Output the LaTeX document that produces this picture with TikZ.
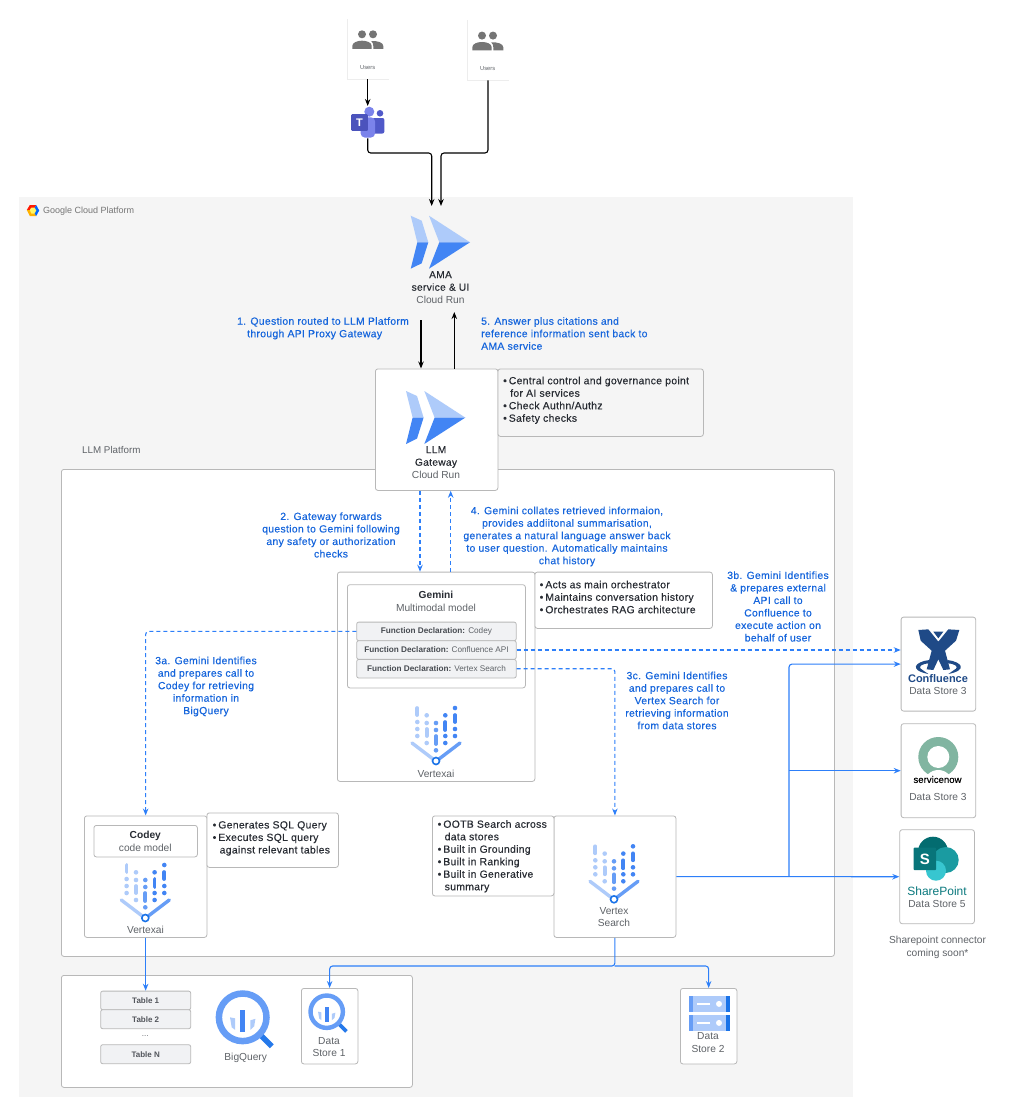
\documentclass[tikz,border=0pt]{standalone}
\usepackage{fontspec}
\setmainfont{Liberation Sans}
\newfontfamily\medfont[FakeBold=0.3,LetterSpace=3]{Liberation Sans}
\newfontfamily\logofont[FakeBold=0.3]{Liberation Sans}
\usetikzlibrary{arrows.meta,calc}
\definecolor{bgc}{HTML}{F5F5F5}
\definecolor{edgec}{HTML}{B8B8B8}
\definecolor{fdfill}{HTML}{F1F2F4}
\definecolor{linkb}{HTML}{2D7FF9}
\definecolor{textb}{HTML}{1565DC}
\definecolor{inkc}{HTML}{282C33}
\definecolor{grayt}{HTML}{5F6368}
\definecolor{lightb}{HTML}{AECBFA}
\definecolor{midb}{HTML}{669DF6}
\definecolor{darkb}{HTML}{4285F4}
\definecolor{deepb}{HTML}{1A73E8}
\definecolor{navyc}{HTML}{1F4A87}
\definecolor{snowg}{HTML}{81B5A1}
\definecolor{spdark}{HTML}{036C70}
\definecolor{spmid}{HTML}{1A9BA1}
\definecolor{splight}{HTML}{37C6D0}
\definecolor{tindigo}{HTML}{4B53BC}
\definecolor{tmid}{HTML}{7B83EB}
\definecolor{tdeep}{HTML}{5059C9}
\definecolor{peoplec}{HTML}{757575}
\tikzset{
  x=1pt,y=-1pt,
  panel/.style={draw=edgec,line width=.8pt,rounded corners=2.5pt,fill=white},
  notebox/.style={draw=edgec,line width=.8pt,rounded corners=2.5pt,fill=bgc},
  fdbox/.style={draw=edgec,line width=.8pt,rounded corners=2pt,fill=fdfill,font=\fontsize{8.2}{9}\selectfont,text=grayt,inner sep=0pt,anchor=north west},
  tablebox/.style={fdbox,font=\fontsize{8}{9}\selectfont\bfseries,text=inkc!80},
  bl/.style={text=textb,font=\fontsize{10.4}{12.5}\medfont,align=center,inner sep=0pt},
  bul/.style={text=inkc,font=\fontsize{10.4}{12.5}\medfont,align=left,inner sep=0pt,anchor=north west},
  lab/.style={text=grayt,font=\fontsize{10.2}{12.5}\selectfont,align=center,inner sep=0pt},
  bk/.style={draw=black,line width=1.1pt,rounded corners=3pt,-{Stealth[length=7pt,width=5.5pt]}},
  bluearrow/.style={draw=linkb,line width=1.1pt,rounded corners=3pt,-{Stealth[length=7pt,width=5.5pt]}},
  dasharrow/.style={bluearrow,dash pattern=on 4pt off 3pt},
}
\newcommand{\boxnode}[6][panel]{\node[#1,minimum width=#4-#2,minimum height=#5-#3,anchor=north west,inner sep=0pt] (#6) at (#2,#3) {};}
\newcommand{\vertexicon}[2]{%
 \begin{scope}[shift={(#1,#2)},line cap=round]
  \foreach \cx/\cc/\ya/\yb/\dl in {-18.7/lightb/-53/-46/{-39,-32,-25},-9.3/lightb/-32/-25/{-45.7,-38,-18},0/midb/-25/-17/{-38,-31,-10.7},9.3/darkb/-39/-31/{-45.7,-25,-18},19/darkb/-46/-39/{-53,-32,-25}}{%
    \draw[\cc,line width=3.7pt] (\cx,\ya)--(\cx,\yb);
    \foreach \dy in \dl {\fill[\cc] (\cx,\dy) circle (2.3pt);}
  }
  \draw[lightb,line width=3.4pt] (-24,-18)--(-3,-2);
  \draw[midb,line width=3.4pt] (24,-18)--(3,-2);
  \draw[deepb,line width=1.6pt,fill=white] (0,0) circle (3.5pt);
 \end{scope}}
\newcommand{\cloudrun}[2]{%
 \begin{scope}[shift={(#1,#2)}]
  \fill[lightb] (0,0)--(11,5)--(17.6,26.6)--(6.6,26.6)--cycle;
  \fill[darkb] (6.6,26.6)--(17.6,26.6)--(11,47.6)--(0,53)--cycle;
  \fill[lightb] (18.3,0)--(59.3,26.6)--(28.6,26.6)--cycle;
  \fill[darkb] (28.6,26.6)--(59.3,26.6)--(18.3,53)--cycle;
 \end{scope}}
\newcommand{\usercard}[2]{%
 \begin{scope}[shift={(#1,#2)}]
  \fill[peoplec] (14.7,15.3) circle (4pt);
  \fill[peoplec] (25.7,15.3) circle (4pt);
  \fill[peoplec] (5,30) -- (5,27) .. controls (5,23.5) and (10,21.7) .. (14.7,21.7) .. controls (19.5,21.7) and (24.4,23.5) .. (24.4,27) -- (24.4,30) -- cycle;
  \fill[peoplec] (26,30) -- (26,27) .. controls (26,25) and (25.5,23.5) .. (24,22.2) .. controls (30,21.5) and (36,23.5) .. (36,27) -- (36,30) -- cycle;
 \end{scope}}
\newcommand{\bqicon}[3]{%
 \begin{scope}[shift={(#1,#2)},scale=#3]
  \draw[deepb!85!midb,line width=#3*5.5pt] (18.5,18.5)--(29,29);
  \draw[midb,line width=#3*6.5pt,fill=white] (0,0) circle (23.8pt);
  \fill[darkb] (-2.7,-7.3) rectangle (2.7,15);
  \fill[lightb] (-12.7,0)--(-7.7,1)--(-7.7,12.5)--(-11,10)--cycle;
  \fill[lightb] (7.7,3)--(12.7,1.5)--(11.5,9)--(7.7,12.5)--cycle;
 \end{scope}}
\begin{document}
\begin{tikzpicture}
\useasboundingbox (0,0) rectangle (1013,1116);
\fill[white] (0,0) rectangle (1013,1116);
% platform background and panels
\fill[bgc] (19,197) rectangle (853,1097);
\boxnode{61}{469}{834}{956}{llm}
\boxnode{61}{975}{412}{1087}{bqpanel}
\node[lab,anchor=west,font=\fontsize{9.8}{12}\selectfont] (llmlabel) at (82,450) {LLM Platform};
% GCP logo
\begin{scope}[shift={(33,210.5)}]
 \fill[yellow!60!white] (0,0) circle (4pt);
 \fill[red!80!orange] (-6.2,-.5)--(-3.2,-5.5)--(3.2,-5.5)--(1.7,-3)--(-1.8,-3)--(-3.4,-.5)--cycle;
 \fill[orange!60!yellow] (-6.2,-.5)--(-3.4,-.5)--(-1.8,3)--(1.7,3)--(3.2,5.5)--(-3.2,5.5)--cycle;
 \fill[blue!60!cyan] (3.2,-5.5)--(6.2,0)--(3.2,5.5)--(1.7,3)--(3.4,0)--(1.7,-3)--cycle;
\end{scope}
\node[anchor=west,text=peoplec,inner sep=0pt,font=\fontsize{9}{10}\selectfont] (gcp) at (43,211) {Google Cloud Platform};
% user cards
\fill[black!7] (346.5,19) rectangle (389.2,80);
\node[fill=white,minimum width=41pt,minimum height=60pt,anchor=north west,inner sep=0pt] (u1) at (347.3,19) {};
\usercard{347.3}{19}
\node[text=grayt,inner sep=0pt,font=\fontsize{5.8}{7}\selectfont] (u1t) at (367.7,67.5) {Users};
\fill[black!7] (466.5,20) rectangle (509.2,80.5);
\node[fill=white,minimum width=41pt,minimum height=60pt,anchor=north west,inner sep=0pt] (u2) at (467.3,20) {};
\usercard{467.3}{20.3}
\node[text=grayt,inner sep=0pt,font=\fontsize{5.8}{7}\selectfont] (u2t) at (487.7,69) {Users};
% teams
\node[minimum width=33pt,minimum height=32pt,anchor=north west,inner sep=0pt] (teams) at (351,106) {};
\fill[tdeep] (380,113.3) circle (3.3pt);
\fill[tdeep,rounded corners=2pt] (372,118) rectangle (384.4,133.5);
\fill[tmid] (369.3,111.7) circle (5pt);
\fill[tmid,rounded corners=4pt] (360.7,117.3) rectangle (375,137.5);
\node[fill=tindigo,rounded corners=1pt,text=white,minimum width=16.7pt,minimum height=16.7pt,inner sep=0pt,anchor=north west,font=\fontsize{11}{11}\selectfont\bfseries] (teamsT) at (351,114) {T};
% AMA
\node[minimum width=60pt,minimum height=64pt,anchor=north west,inner sep=0pt] (ama) at (410.7,206) {};
\cloudrun{410.7}{215.7}
\node[text=inkc,font=\fontsize{10.2}{12.5}\medfont,align=center,inner sep=0pt,anchor=north] (amat) at (440.5,271) {AMA\\service \& UI};
\node[lab,anchor=north] (amac) at (440.5,296) {Cloud Run};
% Gateway
\boxnode{375}{368.5}{497.5}{490}{gw}
\cloudrun{406}{391}
\node[text=inkc,font=\fontsize{10.2}{12.5}\medfont,align=center,inner sep=0pt,anchor=north] (gwt) at (436,446) {LLM\\Gateway};
\node[lab,anchor=north] (gwc) at (436,471) {Cloud Run};
\boxnode[notebox]{497.5}{368.5}{703}{436}{gwn}
\node[bul] (gwnt) at (503,376.5) {\textbullet\hspace{2pt}Central control and governance point\\\hspace*{7pt}for AI services\\\textbullet\hspace{2pt}Check Authn/Authz\\\textbullet\hspace{2pt}Safety checks};
% Gemini
\boxnode{337}{571.7}{534.5}{781}{gem}
\boxnode{347}{584.3}{525}{687.5}{gemin}
\node[text=inkc,font=\fontsize{10.2}{12}\selectfont\bfseries,inner sep=0pt] (gemt) at (436,595) {Gemini};
\node[lab] (gemm) at (436,607.5) {Multimodal model};
\node[fdbox,minimum width=159.5pt,minimum height=18.6pt] (fd1) at (356.3,621.7) {\textcolor{inkc!85}{\bfseries Function Declaration:} Codey};
\node[fdbox,minimum width=159.5pt,minimum height=18.6pt] (fd2) at (356.3,640.3) {\textcolor{inkc!85}{\bfseries Function Declaration:} Confluence API};
\node[fdbox,minimum width=159.5pt,minimum height=18.6pt] (fd3) at (356.3,659) {\textcolor{inkc!85}{\bfseries Function Declaration:} Vertex Search};
\vertexicon{436}{761}
\node[lab] (gemv) at (436,773.5) {Vertexai};
\boxnode{534.5}{571.7}{712}{628}{gemn}
\node[bul] (gemnt) at (539.5,580.5) {\textbullet\hspace{2pt}Acts as main orchestrator\\\textbullet\hspace{2pt}Maintains conversation history\\\textbullet\hspace{2pt}Orchestrates RAG architecture};
% Codey
\boxnode{84}{815.5}{206.5}{937}{cod}
\boxnode{93.5}{825}{197}{856.5}{codin}
\node[text=inkc,font=\fontsize{10.2}{12}\selectfont\bfseries,inner sep=0pt] (codt) at (145.3,835.5) {Codey};
\node[lab] (codm) at (145.3,848) {code model};
\vertexicon{145.3}{918}
\node[lab] (codv) at (145.5,930) {Vertexai};
\boxnode{206.5}{812.5}{338}{867}{codn}
\node[bul] (codnt) at (212.5,821) {\textbullet\hspace{2pt}Generates SQL Query\\\textbullet\hspace{2pt}Executes SQL query\\\hspace*{7pt}against relevant tables};
% Vertex Search
\boxnode{553.5}{815.5}{675.5}{937}{vs}
\vertexicon{614}{899.3}
\node[lab] (vst) at (614,917) {Vertex\\Search};
\boxnode{432}{815.5}{553.5}{895.5}{vsn}
\node[bul] (vsnt) at (437.5,820) {\textbullet\hspace{2pt}OOTB Search across\\\hspace*{7pt}data stores\\\textbullet\hspace{2pt}Built in Grounding\\\textbullet\hspace{2pt}Built in Ranking\\\textbullet\hspace{2pt}Built in Generative\\\hspace*{7pt}summary};
% Data stores right
\boxnode{900.7}{616.7}{975.3}{710.7}{conf}
\begin{scope}[shift={(900,620)},scale=1/3]
 \fill[navyc] (55,30)--(85,28)--(115,65)--(145,28)--(178,30)--(168,62)--(135,92)--(150,148)--(130,150)--(115,118)--(100,150)--(80,148)--(95,92)--(62,62)--cycle;
 \fill[navyc] (100,35)--(130,35)--(115,55)--cycle;
 \fill[navyc] (88,120)..controls (45,125) and (25,150)..(85,162)--(62,146)..controls (55,140) and (65,131)..(88,130)--cycle;
 \fill[navyc] (142,120)..controls (185,125) and (205,150)..(145,162)--(168,146)..controls (175,140) and (165,131)..(142,130)--cycle;
\end{scope}
\node[text=navyc,inner sep=0pt,font=\fontsize{11}{12}\selectfont\bfseries] (conft) at (938,679) {Confluence};
\node[lab] (confd) at (938,690.5) {Data Store 3};
\boxnode{900.7}{723.3}{975.3}{817.3}{snow}
\fill[snowg] (938.3,757) circle (20pt);
\fill[white] (938.3,784.5) circle (14.5pt);
\fill[white] (938.3,757) circle (11pt);
\node[text=black,inner sep=0pt,font=\fontsize{9.6}{10}\logofont] (snowt) at (937.5,779.5) {servicenow};
\node[lab] (snowd) at (938,797) {Data Store 3};
\boxnode{899.3}{829.3}{974}{923.3}{sp}
\fill[spdark] (933,851.7) circle (15pt);
\fill[spmid] (945.7,860) circle (13pt);
\fill[splight] (936,870.7) circle (10pt);
\node[fill=spdark!90!splight,text=white,rounded corners=1pt,minimum width=22.7pt,minimum height=22.7pt,inner sep=0pt,anchor=north west,font=\fontsize{15}{15}\selectfont\bfseries] (spS) at (913.3,847.3) {S};
\node[text=spdark!85!splight,inner sep=0pt,font=\fontsize{12}{13}\selectfont] (spt) at (937,891.5) {SharePoint};
\node[lab] (spd) at (937,903.5) {Data Store 5};
\node[lab] (spnote) at (937.5,947.5) {Sharepoint connector\\coming soon*};
% bottom panel
\node[tablebox,minimum width=90pt,minimum height=18.7pt] (t1) at (100.3,990.7) {Table 1};
\node[tablebox,minimum width=90pt,minimum height=19pt] (t2) at (100.3,1009.3) {Table 2};
\node[lab,font=\fontsize{8}{9}\selectfont] (tdots) at (145.3,1036.5) {...};
\node[tablebox,minimum width=90pt,minimum height=19pt] (tn) at (100.3,1044.3) {Table N};
\bqicon{242.7}{1017.3}{1}
\node[lab] (bqt) at (245.7,1057.7) {BigQuery};
\boxnode{301}{988}{357.5}{1063.5}{ds1}
\bqicon{326.7}{1011.7}{.68}
\node[lab] (ds1t) at (329,1047) {Data\\Store 1};
\boxnode{680}{988}{736.5}{1063.5}{ds2}
\begin{scope}
 \foreach \yy in {996,1015}{
  \fill[lightb] (689,\yy) rectangle (730.3,\yy+15.7);
  \fill[midb] (689,\yy) rectangle (693.3,\yy+15.7);
  \fill[deepb] (726,\yy) rectangle (730.3,\yy+15.7);
  \fill[white] (696.7,\yy+7) rectangle (710,\yy+8.8);
  \fill[white] (719,\yy+7.9) circle (3pt);
 }
\end{scope}
\node[lab] (ds2t) at (708,1042.5) {Data\\Store 2};
% blue labels
\node[bl,align=left,anchor=north west] (l1) at (237,317) {1. Question routed to LLM Platform\\\hspace*{10pt}through API Proxy Gateway};
\node[bl,align=left,anchor=north west] (l5) at (481,317) {5. Answer plus citations and\\reference information sent back to\\AMA service};
\node[bl] (l2) at (331,535) {2. Gateway forwards\\question to Gemini following\\any safety or authorization\\checks};
\node[bl] (l4) at (567,536.5) {4. Gemini collates retrieved informaion,\\provides addiitonal summarisation,\\generates a natural language answer back\\to user question. Automatically maintains\\chat history};
\node[bl] (l3b) at (778,606.5) {3b. Gemini Identifies\\\& prepares external\\API call to\\Confluence to\\execute action on\\behalf of user};
\node[bl] (l3a) at (206,686.5) {3a. Gemini Identifies\\and prepares call to\\Codey for retrieving\\information in\\BigQuery};
\node[bl] (l3c) at (677,700.5) {3c. Gemini Identifies\\and prepares call to\\Vertex Search for\\retrieving information\\from data stores};
% connectors
\draw[bk] (u1.south -| teams.north) -- (teams.north);
\coordinate (amaL) at (431.7,206);
\coordinate (amaR) at (441,206);
\draw[bk] (teams.south) |- (431.7,153) -- (amaL |- ama.north);
\draw[bk] (u2.south) |- (441,153) -- (amaR |- ama.north);
\coordinate (q1) at (421,320);
\coordinate (a5) at (454.3,312);
\draw[bk] (q1) -- (q1 |- gw.north);
\draw[bk] (a5 |- gw.north) -- (a5);
\coordinate (d2) at (420,490);
\coordinate (d4) at (450.7,490);
\draw[dasharrow] (d2 |- gw.south) -- (d2 |- gem.north);
\draw[dasharrow] (d4 |- gem.north) -- (d4 |- gw.south);
\draw[dasharrow] (fd1.west) -| (cod.north);
\draw[dasharrow] (fd2.east) -- (fd2.east -| conf.west);
\draw[dasharrow] (fd3.east) -| (vs.north);
\coordinate (junc) at (789,876.3);
\draw[bluearrow] (vs.east) -- (sp.west);
\draw[bluearrow] (junc) |- (conf.west);
\draw[bluearrow,rounded corners=0pt] (junc |- snow.west) -- (snow.west);
\draw[bluearrow] (cod.south) -- (t1.north -| cod.south);
\coordinate (vsb) at (614.5,966);
\draw[bluearrow] (vs.south) |- (ds1.north |- vsb) -- (ds1.north);
\draw[bluearrow] (vsb) -| (ds2.north);
\end{tikzpicture}
\end{document}
